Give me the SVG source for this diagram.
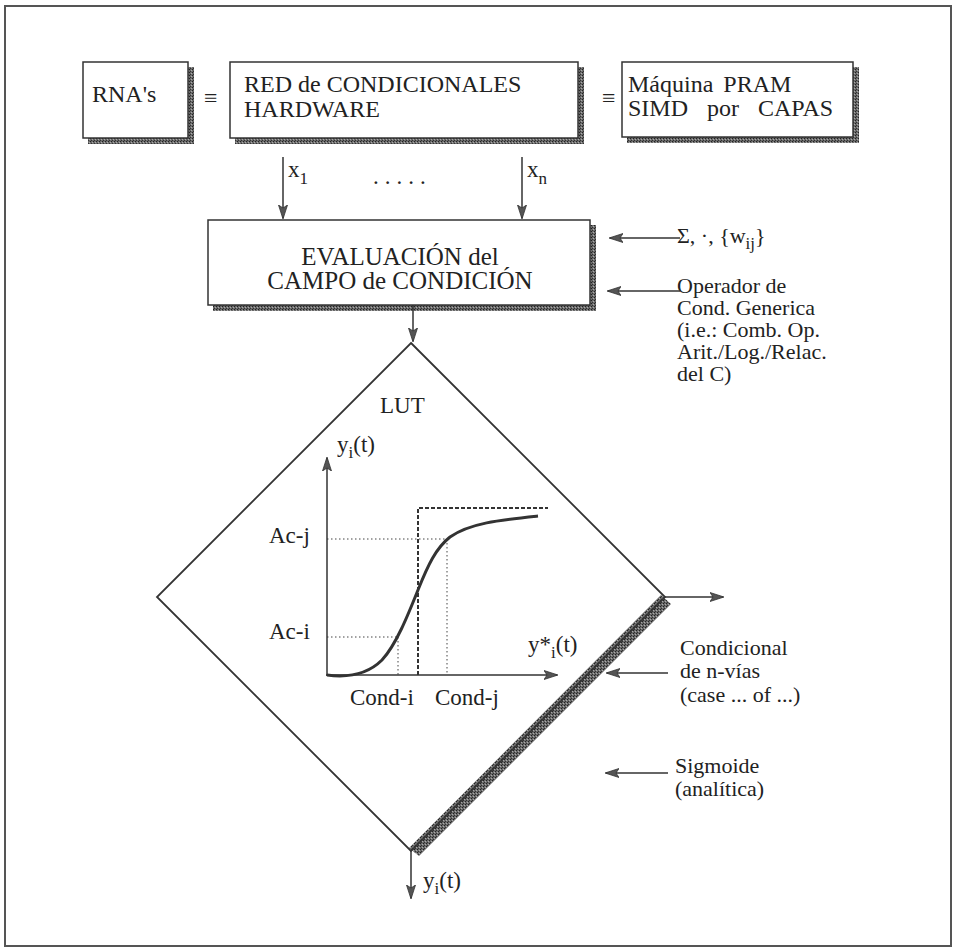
<svg xmlns="http://www.w3.org/2000/svg" width="953" height="948" viewBox="0 0 953 948" font-family="'Liberation Serif','Times New Roman',serif">
<defs>
<pattern id="ht" width="3" height="3" patternUnits="userSpaceOnUse">
<rect width="3" height="3" fill="#6a6a6a"/>
<rect width="1" height="1" fill="#222"/>
<rect x="2" y="1" width="1" height="1" fill="#aaa"/>
<rect x="1" y="2" width="1" height="1" fill="#333"/>
</pattern>
<marker id="ah" viewBox="0 0 14 10" refX="13" refY="5" markerWidth="14" markerHeight="10" markerUnits="userSpaceOnUse" orient="auto">
<path d="M0,0.5 L14,5 L0,9.5 L3,5 Z" fill="#555" stroke="#333" stroke-width="0.8"/>
</marker>
<style>
text{font-family:"Liberation Serif","Times New Roman",serif;font-size:22px;fill:#222}
.big{font-size:24px}
.eb{font-size:25px}
.g{font-size:23px}
.box{fill:#fff;stroke:#333;stroke-width:1.5}
.sh{fill:url(#ht);stroke:none}
.ar{stroke:#333;stroke-width:1.5;fill:none;marker-end:url(#ah)}
.dot{stroke:#444;stroke-width:1;stroke-dasharray:1.5 2.5;fill:none}
.dash{stroke:#333;stroke-width:2;stroke-dasharray:4 2;fill:none}
.sub{font-size:17px}
</style>
</defs>
<rect x="5" y="6" width="946" height="940" fill="none" stroke="#555" stroke-width="2"/>

<g id="rna">
<rect class="sh" x="88" y="67" width="106" height="77"/>
<rect class="box" x="83" y="62" width="105" height="76"/>
<text class="big" x="92" y="102">RNA's</text>
</g>
<g id="eq1"><text class="big" x="204" y="106">≡</text></g>
<g id="red">
<rect class="sh" x="235" y="67" width="349" height="77"/>
<rect class="box" x="230" y="62" width="348" height="76"/>
<text class="big" x="244" y="92">RED de CONDICIONALES</text>
<text class="big" x="244" y="117">HARDWARE</text>
</g>
<g id="eq2"><text class="big" x="602" y="106">≡</text></g>
<g id="pram">
<rect class="sh" x="627" y="67" width="232" height="76"/>
<rect class="box" x="622" y="62" width="231" height="75"/>
<text class="big" x="628" y="92" word-spacing="4">Máquina PRAM</text>
<text class="big" x="628" y="116" word-spacing="13">SIMD por CAPAS</text>
</g>

<g id="eval">
<rect class="sh" x="213" y="225" width="383" height="86"/>
<rect class="box" x="208" y="220" width="382" height="85"/>
<text class="eb" x="400" y="265" text-anchor="middle">EVALUACIÓN del</text>
<text class="eb" x="400" y="289" text-anchor="middle">CAMPO de CONDICIÓN</text>
</g>

<g id="lut">
<polygon class="sh" points="661,595 671,604 419,856 409,848" stroke="#333" stroke-width="0.8"/>
<polygon points="411,343 665,597 411,851 157,597" fill="none" stroke="#333" stroke-width="1.8"/>
<text class="g" x="380" y="413">LUT</text>
</g>

<g id="graph">
<line class="dot" x1="327" y1="539" x2="447" y2="539"/>
<line class="dot" x1="447" y1="539" x2="447" y2="675"/>
<line class="dot" x1="327" y1="637" x2="398" y2="637"/>
<line class="dot" x1="398" y1="637" x2="398" y2="675"/>
<polyline class="dash" points="418,675 418,508 548,508"/>
<path d="M327,675 C350,678 368,674 382,660 C396,645 408,615 418,590 C428,565 436,548 450,537 C470,523 500,520 538,516" fill="none" stroke="#333" stroke-width="3"/>
<line class="ar" x1="327" y1="676" x2="327" y2="458"/>
<line class="ar" x1="326" y1="675" x2="557" y2="675"/>
<text class="g" x="337" y="452">y<tspan class="sub" dy="6">i</tspan><tspan dy="-6">(t)</tspan></text>
<text class="g" x="269" y="543">Ac-j</text>
<text class="g" x="269" y="639">Ac-i</text>
<text class="g" x="528" y="652">y*<tspan class="sub" dy="6">i</tspan><tspan dy="-6">(t)</tspan></text>
<text class="g" x="350" y="705">Cond-i</text>
<text class="g" x="435" y="705">Cond-j</text>
</g>

<g id="labels">
<text class="g" x="288" y="177">x<tspan class="sub" dy="7">1</tspan></text>
<text class="g" x="373" y="184" letter-spacing="6">.....</text>
<text class="g" x="527" y="177">x<tspan class="sub" dy="7">n</tspan></text>
<text x="677" y="243">Σ, ·, {w<tspan class="sub" dy="6">ij</tspan><tspan dy="-6">}</tspan></text>
<text x="677" y="293">Operador de</text>
<text x="677" y="315">Cond. Generica</text>
<text x="677" y="337">(i.e.: Comb. Op.</text>
<text x="677" y="359">Arit./Log./Relac.</text>
<text x="677" y="381">del C)</text>
<text x="680" y="655">Condicional</text>
<text x="680" y="678">de n-vías</text>
<text x="680" y="702">(case ... of ...)</text>
<text x="675" y="773">Sigmoide</text>
<text x="675" y="796">(analítica)</text>
<text class="g" x="423" y="888">y<tspan class="sub" dy="6">i</tspan><tspan dy="-6">(t)</tspan></text>
</g>

<g id="connectors">
<line class="ar" x1="283" y1="157" x2="283" y2="218"/>
<line class="ar" x1="522" y1="157" x2="522" y2="218"/>
<line class="ar" x1="413" y1="305" x2="413" y2="341"/>
<line class="ar" x1="680" y1="238" x2="610" y2="238"/>
<line class="ar" x1="680" y1="291" x2="608" y2="291"/>
<line class="ar" x1="665" y1="597" x2="723" y2="597"/>
<line class="ar" x1="668" y1="673" x2="607" y2="673"/>
<line class="ar" x1="668" y1="773" x2="606" y2="773"/>
<line class="ar" x1="411" y1="851" x2="411" y2="898"/>
</g>
</svg>
